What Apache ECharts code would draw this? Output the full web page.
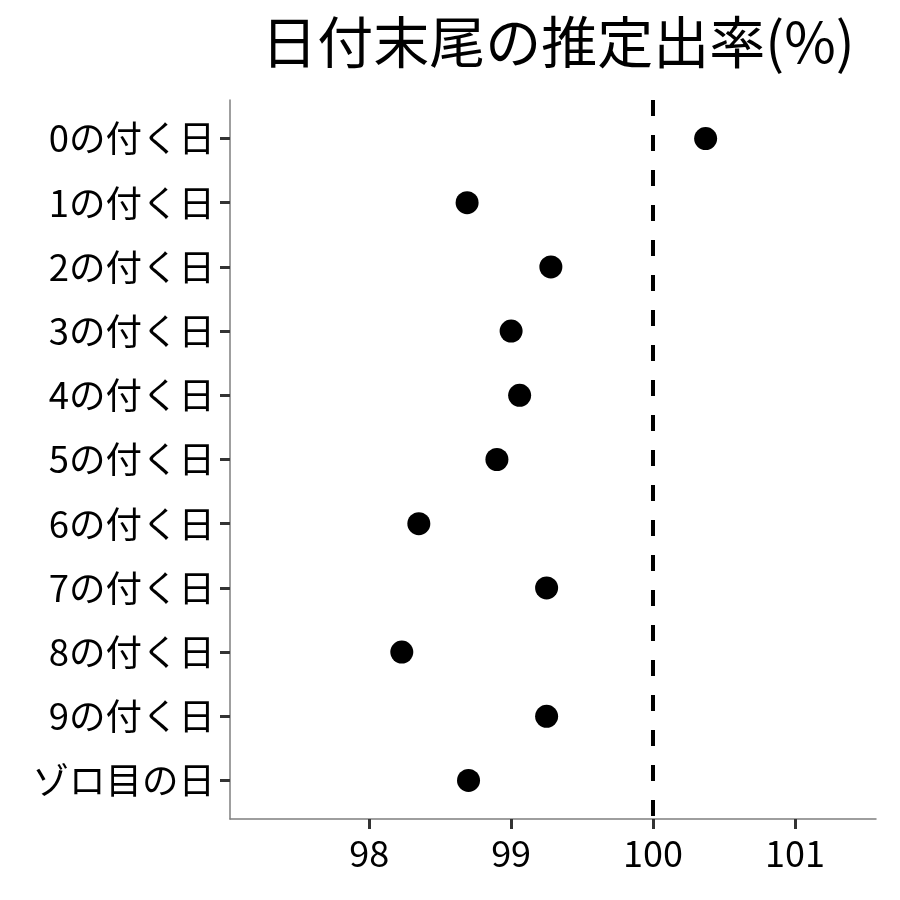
<!DOCTYPE html>
<html>
<head>
<meta charset="utf-8">
<script src="https://cdn.jsdelivr.net/npm/echarts@6/dist/echarts.min.js"></script>
<style>
  html, body { margin: 0; padding: 0; background: #fff; }
  #chart { width: 900px; height: 900px; }
</style>
</head>
<body>
<div id="chart"></div>
<script>
const titleText = '日付末尾の推定出率(%)'
const categories = ['0の付く日', '1の付く日', '2の付く日', '3の付く日', '4の付く日', '5の付く日',
  '6の付く日', '7の付く日', '8の付く日', '9の付く日', 'ゾロ目の日']
const rates = [100.37, 98.69, 99.28, 99.0, 99.06, 98.9, 98.35, 99.25, 98.23, 99.25, 98.7]
const xTicks = [98, 99, 100, 101]
const refLine = 100

const font = '"Noto Sans CJK JP", "Noto Sans", sans-serif'
const chart = echarts.init(document.getElementById('chart'))

// カテゴリは位置(0..10)で置き、ggplot風に上下0.6ずつ余白を取る
const catIndex = categories.map((_, i) => i)

chart.setOption({
  animation: false,
  textStyle: { fontFamily: font },
  title: {
    text: titleText,
    left: 553,
    textAlign: 'center',
    top: 9,
    textStyle: { fontFamily: font, fontSize: 56, fontWeight: 'normal', color: '#000' }
  },
  grid: { left: 230, right: 24, top: 100, bottom: 81 },
  xAxis: {
    type: 'value',
    min: 97.02,
    max: 101.57,
    axisLine: { show: true, onZero: false, lineStyle: { color: '#7f7f7f', width: 1.5 } },
    axisTick: { show: true, customValues: xTicks, length: 10, lineStyle: { color: '#333', width: 3 } },
    axisLabel: { customValues: xTicks, fontSize: 36, color: '#000', margin: 16, fontFamily: font },
    splitLine: { show: false }
  },
  yAxis: {
    type: 'value',
    inverse: true,
    min: -0.6,
    max: categories.length - 1 + 0.6,
    axisLine: { show: true, onZero: false, lineStyle: { color: '#7f7f7f', width: 1.5 } },
    axisTick: { show: true, customValues: catIndex, length: 10, lineStyle: { color: '#333', width: 3 } },
    axisLabel: {
      customValues: catIndex,
      formatter: v => categories[Math.round(v)],
      fontSize: 36.5,
      color: '#000',
      margin: 15,
      fontFamily: font
    },
    splitLine: { show: false }
  },
  series: [
    {
      type: 'scatter',
      data: rates.map((r, i) => [r, i]),
      symbol: 'circle',
      symbolSize: 23,
      itemStyle: { color: '#000', opacity: 1 },
      markLine: {
        silent: true,
        symbol: 'none',
        label: { show: false },
        lineStyle: { color: '#000', width: 4, type: [16, 19] },
        data: [{ xAxis: refLine }]
      }
    }
  ]
})
</script>
</body>
</html>
